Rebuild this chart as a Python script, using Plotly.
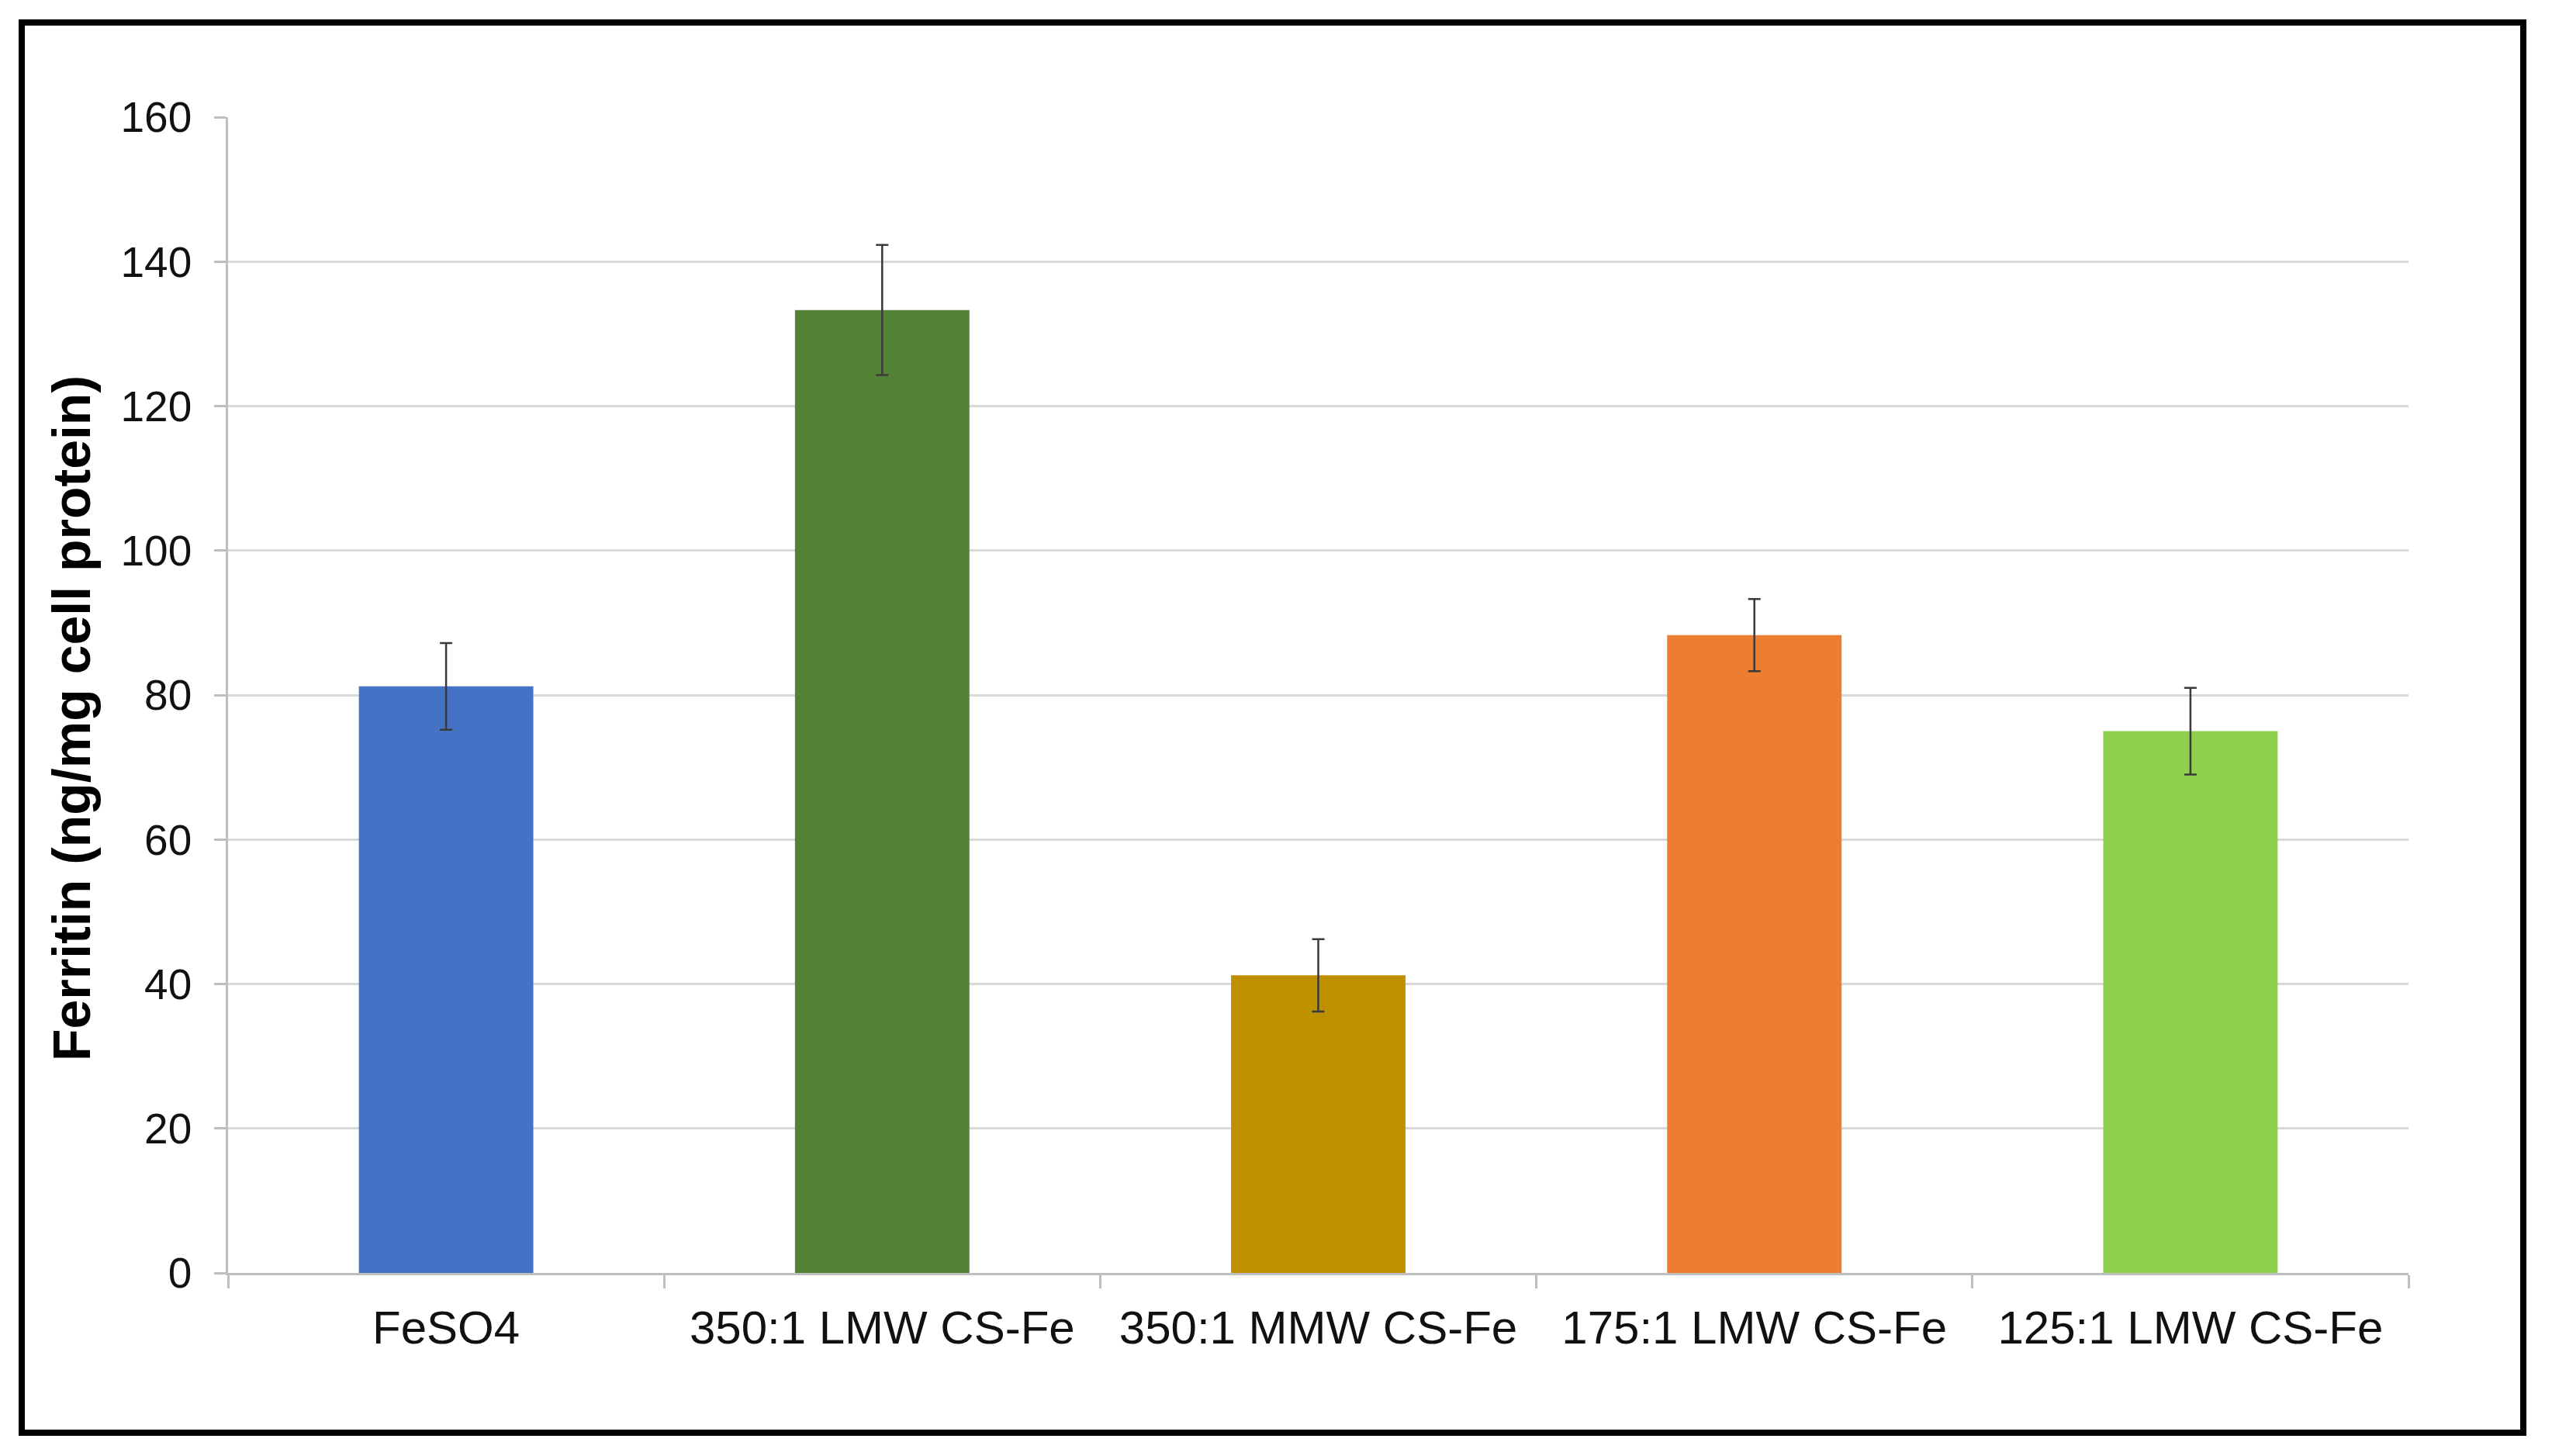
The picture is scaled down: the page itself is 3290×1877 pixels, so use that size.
import plotly.graph_objects as go

categories = ["FeSO4", "350:1 LMW CS-Fe", "350:1 MMW CS-Fe", "175:1 LMW CS-Fe", "125:1 LMW CS-Fe"]
ferritin = [81.2, 133.3, 41.2, 88.3, 75.0]
error = [6.0, 9.0, 5.0, 5.0, 6.0]
colors = ["#4472C4", "#548235", "#BF9000", "#ED7D31", "#8FD14F"]
y_ticks = [0, 20, 40, 60, 80, 100, 120, 140, 160]
y_title = "Ferritin (ng/mg cell protein)"

OFF = 8  # default page body margin
W, H = 3290 - 2 * OFF, 1877 - 2 * OFF
L, T = 294 - OFF, 151 - OFF
R = W - (3105 - OFF)
B = H - (1641 - OFF)
pw, ph = W - L - R, H - T - B

fig = go.Figure()
fig.add_trace(go.Bar(
    x=categories, y=ferritin,
    marker=dict(color=colors, line=dict(width=0)),
    error_y=dict(type="data", array=error, visible=True, color="#3a3a3a", thickness=2.5, width=8),
    width=0.4,
))

def px2paper_x(px):
    return (px - OFF - L) / pw

def px2paper_y(py):
    return (H - B - (py - OFF)) / ph

fig.add_shape(type="rect", xref="paper", yref="paper",
              x0=px2paper_x(28), x1=px2paper_x(3253),
              y0=px2paper_y(1847), y1=px2paper_y(29),
              line=dict(color="black", width=8), fillcolor="rgba(0,0,0,0)", layer="above")

fig.add_annotation(
    text=f"<b>{y_title}</b>", textangle=-90, showarrow=False,
    xref="paper", yref="paper",
    x=px2paper_x(92), y=px2paper_y(926), xanchor="center", yanchor="middle",
    font=dict(size=68, color="#000000", family="Liberation Sans, Arial, sans-serif"),
)

fig.update_layout(
    width=W, height=H,
    margin=dict(l=L, r=R, t=T, b=B, pad=0),
    paper_bgcolor="white", plot_bgcolor="white",
    showlegend=False,
    font=dict(family="Liberation Sans, Arial, sans-serif", color="#111111"),
)
fig.update_xaxes(
    type="category",
    showline=True, linecolor="#BFBFBF", linewidth=2.5,
    ticks="outside", tickson="boundaries", ticklen=17, tickcolor="#BFBFBF", tickwidth=2.5,
    tickfont=dict(size=60, color="#111111"),
    ticklabelstandoff=16,
    showgrid=False,
)
fig.update_yaxes(
    range=[0, 160], tickvals=y_ticks,
    showline=True, linecolor="#BFBFBF", linewidth=2.5,
    ticks="outside", ticklen=15, tickcolor="#BFBFBF", tickwidth=2.5,
    tickfont=dict(size=55, color="#111111"),
    ticklabelstandoff=18,
    showgrid=True, gridcolor="#D9D9D9", gridwidth=2.5,
    zeroline=False,
)

fig.write_html("out.html")
